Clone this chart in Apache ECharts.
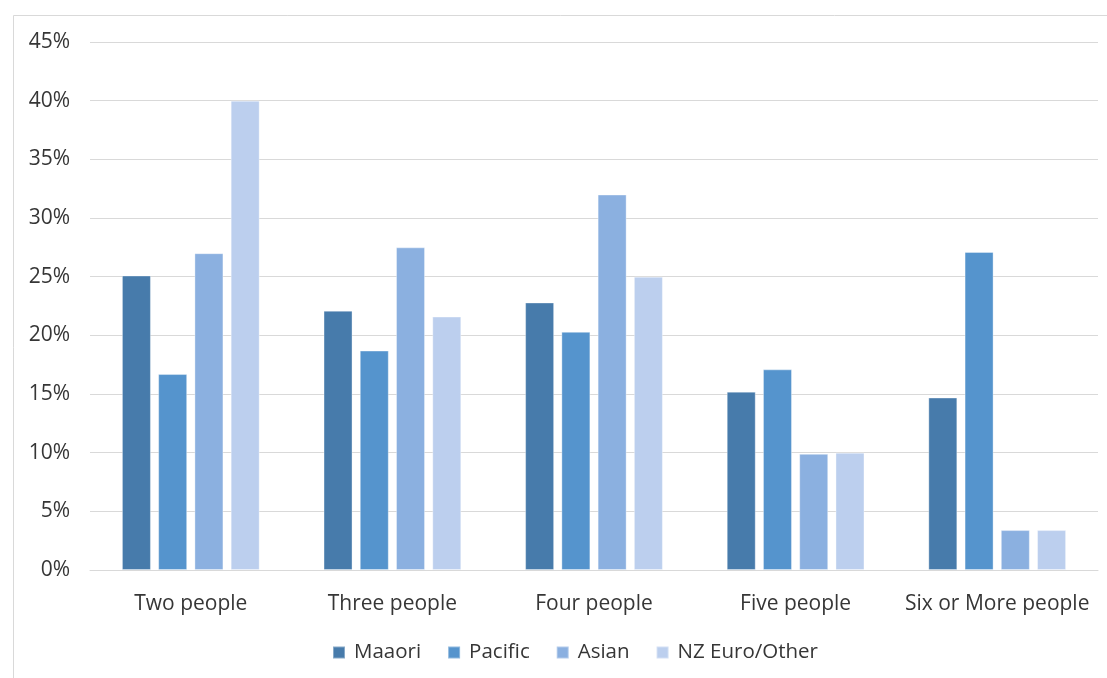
<!DOCTYPE html>
<html>
<head>
<meta charset="utf-8">
<script src="https://cdn.jsdelivr.net/npm/echarts@6/dist/echarts.min.js"></script>
<style>
  html, body { margin: 0; padding: 0; background: #ffffff; }
  #chart { width: 1107px; height: 678px; }
</style>
</head>
<body>
<div id="chart"></div>
<script>
// Household size by ethnicity (share of households, %)
const categories = ['Two people', 'Three people', 'Four people', 'Five people', 'Six or More people'];
const maaori   = [25.1, 22.1, 22.8, 15.2, 14.7];
const pacific  = [16.7, 18.7, 20.3, 17.1, 27.1];
const asian    = [27.0, 27.5, 32.0, 9.9, 3.4];
const nzEuro   = [40.0, 21.6, 25.0, 10.0, 3.4];
const seriesNames = ['Maaori', 'Pacific', 'Asian', 'NZ Euro/Other'];
const seriesColors = ['#477bab', '#5594cd', '#8bb0e0', '#bccfee'];
const seriesValues = [maaori, pacific, asian, nzEuro];

const FONT = '"Open Sans", "Noto Sans", sans-serif';
const TEXT = '#363636';

const chart = echarts.init(document.getElementById('chart'), null, { renderer: 'canvas' });

chart.setOption({
  animation: false,
  backgroundColor: '#ffffff',
  graphic: [{
    type: 'rect',
    shape: { x: 13.5, y: 15.5, width: 1200, height: 800 },
    style: { fill: 'none', stroke: '#d9d9d9', lineWidth: 1 },
    silent: true
  }],
  grid: { left: 90, right: 9, top: 42, bottom: 108, containLabel: false },
  legend: {
    bottom: 10,
    left: 327,
    itemWidth: 12,
    itemHeight: 12,
    itemGap: 26,
    icon: 'rect',
    textStyle: { color: TEXT, fontFamily: FONT, fontSize: 20.5, padding: [0, 0, 0, 4] },
    data: seriesNames
  },
  xAxis: {
    type: 'category',
    data: categories,
    axisLine: { show: true, lineStyle: { color: '#d9d9d9', width: 1 } },
    axisTick: { show: false },
    axisLabel: { color: TEXT, fontFamily: FONT, fontSize: 21, margin: 24, interval: 0 }
  },
  yAxis: {
    type: 'value',
    min: 0,
    max: 45,
    interval: 5,
    axisLine: { show: false },
    axisTick: { show: false },
    splitLine: { lineStyle: { color: '#d9d9d9', width: 1 } },
    axisLabel: { color: TEXT, fontFamily: FONT, fontSize: 21, margin: 20, formatter: '{value}%' }
  },
  series: seriesNames.map((name, i) => ({
    name: name,
    type: 'bar',
    data: seriesValues[i],
    barWidth: 29,
    barGap: '25%',
    itemStyle: { color: seriesColors[i], borderColor: 'rgba(255,255,255,0.35)', borderWidth: 1 }
  }))
});
</script>
</body>
</html>
